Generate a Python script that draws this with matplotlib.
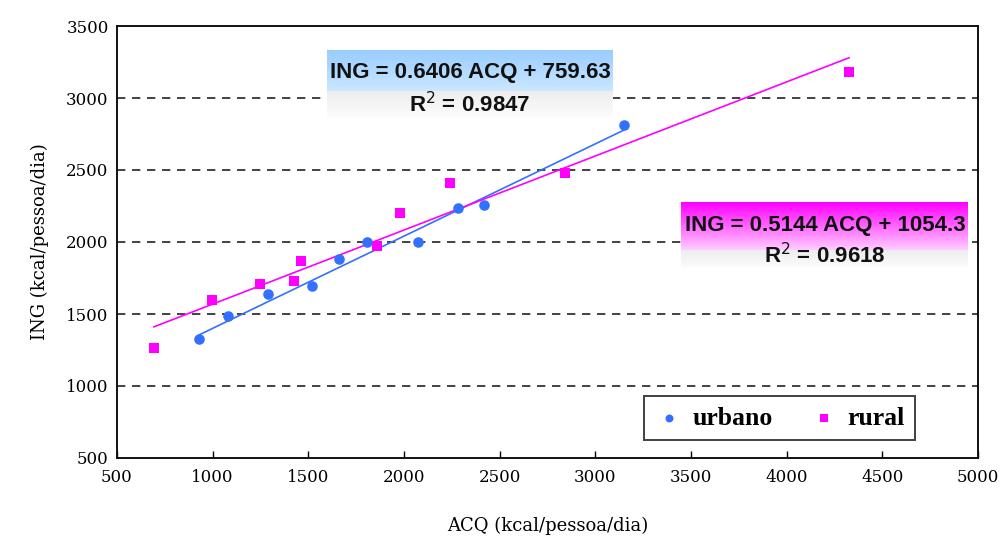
import numpy as np
import matplotlib
matplotlib.use("Agg")
import matplotlib.pyplot as plt

# ---- data ----
urb_x = [929, 1080, 1289, 1519, 1660, 1807, 2073, 2282, 2418, 3150]
urb_y = [1326, 1486, 1639, 1694, 1882, 2000, 2000, 2236, 2257, 2812]
rur_x = [693, 997, 1247, 1425, 1462, 1859, 1979, 2241, 2842, 4326]
rur_y = [1264, 1597, 1708, 1729, 1868, 1972, 2201, 2410, 2479, 3181]
urb_coef = (0.6406, 759.63)
rur_coef = (0.5144, 1054.3)
urb_eq = "ING = 0.6406 ACQ + 759.63"
urb_r2 = "R$^{2}$ = 0.9847"
rur_eq = "ING = 0.5144 ACQ + 1054.3"
rur_r2 = "R$^{2}$ = 0.9618"
xticks = [500, 1000, 1500, 2000, 2500, 3000, 3500, 4000, 4500, 5000]
yticks = [500, 1000, 1500, 2000, 2500, 3000, 3500]

BLUE = "#3370FF"
MAG = "#FF00FF"

fig = plt.figure(figsize=(10.06, 5.39), dpi=100)
ax = fig.add_axes([117/1006, 1-458/539, 861/1006, 432/539])
ax.set_xlim(500, 5000)
ax.set_ylim(500, 3500)

for y in yticks[1:-1]:
    ax.axhline(y, color="#222222", lw=1.2, ls=(0, (5, 4)), zorder=1)

# trend lines
ux = np.array([min(urb_x), max(urb_x)])
rx = np.array([min(rur_x), max(rur_x)])
ax.plot(ux, urb_coef[0]*ux + urb_coef[1], color=BLUE, lw=1.2, zorder=2)
ax.plot(rx, rur_coef[0]*rx + rur_coef[1], color=MAG, lw=1.2, zorder=2)

ax.scatter(urb_x, urb_y, s=58, marker="o", color=BLUE, zorder=3, label="urbano", linewidths=0)
ax.scatter(rur_x, rur_y, s=58, marker="s", color=MAG, zorder=3, label="rural", linewidths=0)

# gradient label boxes
def grad_box(x0, x1, ytop, ymid, ybot, c_top, c_mid, g_top, g_bot):
    n = 50
    t = np.linspace(0, 1, n)[:, None]
    top = np.array(c_top)[None, :]*(1-t) + np.array(c_mid)[None, :]*t
    ax.imshow(top[:, None, :].repeat(2, axis=1), extent=[x0, x1, ymid, ytop],
              aspect="auto", zorder=4, interpolation="bilinear")
    bot = np.array(g_top)[None, :]*(1-t) + np.array(g_bot)[None, :]*t
    ax.imshow(bot[:, None, :].repeat(2, axis=1), extent=[x0, x1, ybot, ymid],
              aspect="auto", zorder=4, interpolation="bilinear")

grad_box(1598, 3088, 3333, 3042, 2861,
         (0.60, 0.80, 1.0), (0.80, 0.91, 1.0), (0.93, 0.93, 0.93), (0.99, 0.99, 0.99))
grad_box(3448, 4943, 2271, 1944, 1819,
         (1.0, 0.0, 1.0), (1.0, 0.80, 1.0), (0.93, 0.93, 0.93), (0.99, 0.99, 0.99))

tfont = dict(family="Liberation Sans", weight="bold", fontsize=16, ha="center",
             va="center", zorder=5, color="#111111")
ax.text(2345, 3174, urb_eq, **tfont)
ax.text(2345, 2951, urb_r2, **tfont)
ax.text(4201, 2118, rur_eq, **tfont)
ax.text(4201, 1903, rur_r2, **tfont)

ax.set_xlim(500, 5000)
ax.set_ylim(500, 3500)
ax.set_xticks(xticks)
ax.set_yticks(yticks)
ax.tick_params(axis="x", direction="in", length=5, width=1, pad=8)
ax.tick_params(axis="y", length=0, pad=6)
for lab in ax.get_xticklabels() + ax.get_yticklabels():
    lab.set_fontfamily("DejaVu Serif")
    lab.set_fontsize(12)
for s in ax.spines.values():
    s.set_linewidth(1.4)
    s.set_color("#111111")

ax.set_xlabel("ACQ (kcal/pessoa/dia)", family="DejaVu Serif", fontsize=13, labelpad=22)
ax.set_ylabel("ING (kcal/pessoa/dia)", family="DejaVu Serif", fontsize=13, labelpad=12)

leg = ax.legend(loc="center", bbox_to_anchor=(0.611, 0.039, 0.316, 0.106), ncol=2,
                frameon=True, fancybox=False, edgecolor="#111111", handletextpad=0.3,
                columnspacing=1.4, handlelength=1.2, markerscale=0.75,
                prop=dict(family="Liberation Serif", weight="bold", size=18.5),
                borderaxespad=0, borderpad=0.4)
leg.get_frame().set_linewidth(1.4)
leg.set_zorder(6)

fig.savefig("out.png", dpi=100)
